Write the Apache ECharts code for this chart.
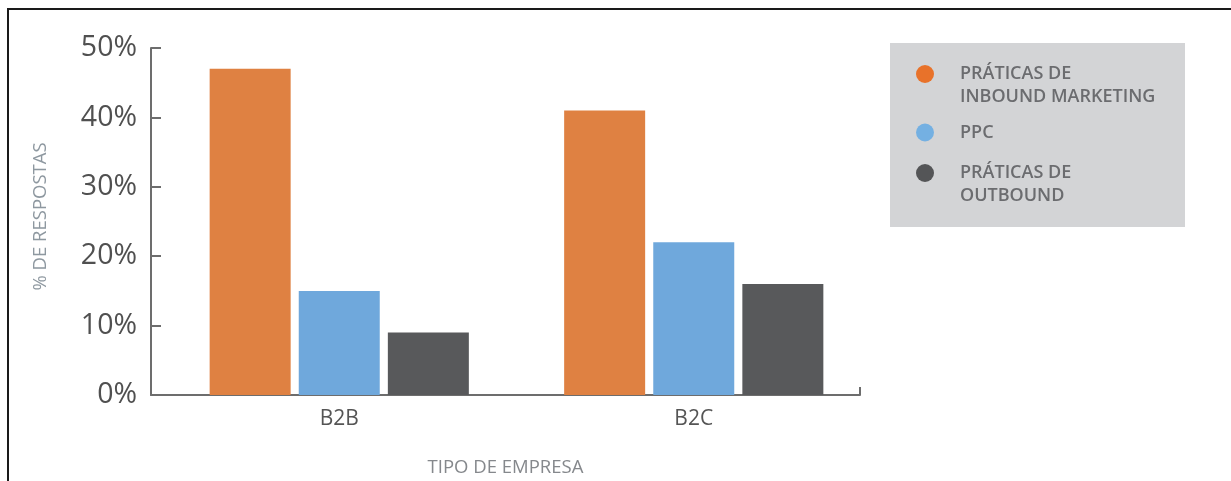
<!DOCTYPE html>
<html lang="pt">
<head>
    <meta charset="UTF-8">
    <title>Tipo de empresa</title>
    <script src="https://cdn.jsdelivr.net/npm/echarts@6/dist/echarts.min.js"></script>
    <style>
        html, body {
            margin: 0;
            padding: 0;
            background: #fff;
        }

        #main {
            width: 1231px;
            height: 481px;
        }

        #frame {
            position: absolute;
            left: 7px;
            top: 8px;
            right: 0;
            bottom: 0;
            border-left: 2px solid #1a1a1a;
            border-top: 2px solid #1a1a1a;
            pointer-events: none;
        }
    </style>
</head>
<body>
<div id="main"></div>
<div id="frame"></div>
<script type="text/javascript">
    // dados
    var categorias = ['B2B', 'B2C'];
    var inbound = [47, 41];
    var ppc = [15, 22];
    var outbound = [9, 16];
    var nomes = ['PRÁTICAS DE\nINBOUND MARKETING', 'PPC', 'PRÁTICAS DE\nOUTBOUND'];
    var cores = ['#df8142', '#6fa8dc', '#58595b'];
    var coresLegenda = ['#e8722a', '#74b0e2', '#545557'];

    var myChart = echarts.init(document.getElementById('main'));

    var fonte = '"Open Sans", sans-serif';
    var legendaTexto = {
        color: '#6b6c6f',
        fontSize: 18,
        fontWeight: 600,
        fontFamily: fonte,
        lineHeight: 23
    };

    // uma legenda por série, para alinhar o círculo com a primeira linha
    function legenda(i, top) {
        return {
            data: [{name: nomes[i], itemStyle: {color: coresLegenda[i]}}],
            orient: 'vertical',
            left: 916,
            top: top,
            padding: 0,
            icon: 'circle',
            itemWidth: 60,
            itemHeight: 18,
            selectedMode: false,
            textStyle: legendaTexto,
            formatter: function (n) {
                return n.indexOf('\n') >= 0 ? '\n' + n : n;
            }
        };
    }

    var option = {
        animation: false,
        graphic: [{
            type: 'rect',
            left: 890,
            top: 43,
            shape: {width: 295, height: 184},
            style: {fill: '#d3d4d6'},
            z: -1
        }],
        legend: [
            legenda(0, 39.5),
            legenda(1, 121),
            legenda(2, 138.5)
        ],
        grid: [
            {left: 151, right: 371, top: 48, bottom: 86, outerBoundsMode: 'none'},
            {left: 162, right: 360, top: 48, bottom: 86, outerBoundsMode: 'none'}
        ],
        xAxis: [{
            type: 'value',
            gridIndex: 0,
            min: 0,
            max: 1,
            interval: 1,
            axisLine: {show: true, lineStyle: {color: '#6d6d6d', width: 2}},
            axisTick: {show: true, inside: true, length: 8, lineStyle: {color: '#6d6d6d', width: 2}},
            axisLabel: {show: false},
            splitLine: {show: false},
            name: 'TIPO DE EMPRESA',
            nameLocation: 'middle',
            nameGap: 63,
            nameTextStyle: {color: '#85888c', fontSize: 18.5, fontFamily: fonte}
        }, {
            type: 'category',
            gridIndex: 1,
            data: categorias,
            axisLine: {show: false},
            axisTick: {show: false},
            axisLabel: {color: '#555', fontSize: 21, fontFamily: fonte, margin: 14}
        }],
        yAxis: [{
            type: 'value',
            gridIndex: 0,
            min: 0,
            max: 50,
            interval: 10,
            axisLine: {show: true, lineStyle: {color: '#6d6d6d', width: 2}},
            axisTick: {show: true, inside: true, length: 10, lineStyle: {color: '#6d6d6d', width: 2}},
            axisLabel: {formatter: '{value}%', color: '#505050', fontSize: 28.5, fontFamily: fonte, margin: 14},
            splitLine: {show: false},
            name: '% DE RESPOSTAS',
            nameLocation: 'middle',
            nameGap: 101,
            nameTextStyle: {color: '#8e98a0', fontSize: 18.5, fontFamily: fonte, padding: [0, 0, 0, 10]}
        }, {
            type: 'value',
            gridIndex: 1,
            min: 0,
            max: 50,
            show: false
        }],
        series: [{
            name: nomes[0],
            type: 'bar',
            xAxisIndex: 1,
            yAxisIndex: 1,
            barWidth: 81,
            barGap: '10%',
            itemStyle: {color: cores[0]},
            data: inbound
        }, {
            name: nomes[1],
            type: 'bar',
            xAxisIndex: 1,
            yAxisIndex: 1,
            barWidth: 81,
            barGap: '10%',
            itemStyle: {color: cores[1]},
            data: ppc
        }, {
            name: nomes[2],
            type: 'bar',
            xAxisIndex: 1,
            yAxisIndex: 1,
            barWidth: 81,
            barGap: '10%',
            itemStyle: {color: cores[2]},
            data: outbound
        }]
    };

    myChart.setOption(option);
</script>
</body>
</html>
